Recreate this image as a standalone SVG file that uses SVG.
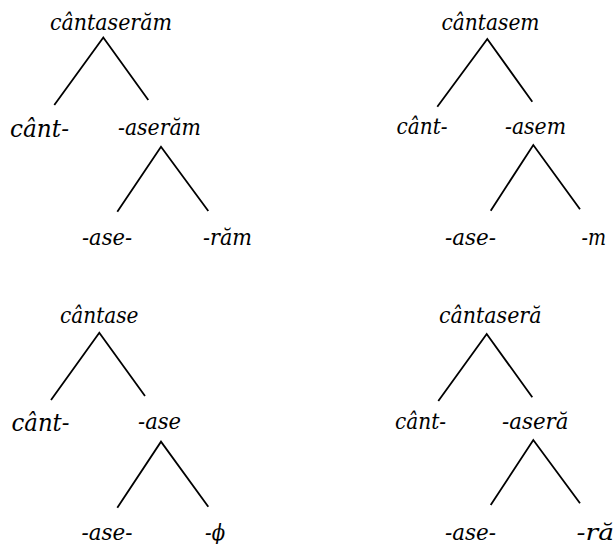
<svg xmlns="http://www.w3.org/2000/svg" width="615" height="544" viewBox="0 0 615 544">
<style>
.lbl{font-family:'DejaVu Serif', 'Liberation Serif', serif;font-style:italic;font-size:22px;fill:#000}
.big{font-size:25px}
.edge{stroke:#000;stroke-width:1.8;fill:none;stroke-linecap:butt}
</style>
<rect width="615" height="544" fill="#fff"/>
<g id="connectors">
<path class="edge" d="M54.3,105 L103.3,37.5 L148.3,100"/>
<path class="edge" d="M117.3,211.7 L161,146.7 L208.3,211"/>
<path class="edge" d="M437.3,106.7 L487.3,39 L532.3,101.7"/>
<path class="edge" d="M490.7,210.7 L533.3,145 L580,209.3"/>
<path class="edge" d="M51,400 L99.3,332.7 L145,396"/>
<path class="edge" d="M117.3,507.7 L161,441.7 L208.3,506.7"/>
<path class="edge" d="M438.3,401 L486.7,334 L532.3,397.3"/>
<path class="edge" d="M490.7,505 L533.3,440 L580,503.3"/>
</g>
<g id="t1-root"><text class="lbl" x="50" y="30" textLength="122" lengthAdjust="spacingAndGlyphs">cântaserăm</text></g>
<g id="t1-cant"><text class="lbl big" x="10" y="137" textLength="59" lengthAdjust="spacingAndGlyphs">cânt-</text></g>
<g id="t1-aseram"><text class="lbl" x="118" y="135" textLength="83" lengthAdjust="spacingAndGlyphs">-aserăm</text></g>
<g id="t1-ase"><text class="lbl" x="82" y="245" textLength="50" lengthAdjust="spacingAndGlyphs">-ase-</text></g>
<g id="t1-ram"><text class="lbl" x="203" y="245" textLength="49" lengthAdjust="spacingAndGlyphs">-răm</text></g>
<g id="t2-root"><text class="lbl" x="441.5" y="30" textLength="98" lengthAdjust="spacingAndGlyphs">cântasem</text></g>
<g id="t2-cant"><text class="lbl" x="396.5" y="134" textLength="51" lengthAdjust="spacingAndGlyphs">cânt-</text></g>
<g id="t2-asem"><text class="lbl" x="505" y="134" textLength="61" lengthAdjust="spacingAndGlyphs">-asem</text></g>
<g id="t2-ase"><text class="lbl" x="445" y="245" textLength="51" lengthAdjust="spacingAndGlyphs">-ase-</text></g>
<g id="t2-m"><text class="lbl" x="581.5" y="245" textLength="24.5" lengthAdjust="spacingAndGlyphs">-m</text></g>
<g id="t3-root"><text class="lbl" x="60" y="323" textLength="78.5" lengthAdjust="spacingAndGlyphs">cântase</text></g>
<g id="t3-cant"><text class="lbl big" x="11.5" y="431" textLength="58" lengthAdjust="spacingAndGlyphs">cânt-</text></g>
<g id="t3-ase"><text class="lbl" x="138" y="429" textLength="43" lengthAdjust="spacingAndGlyphs">-ase</text></g>
<g id="t3-ase2"><text class="lbl" x="81.5" y="540" textLength="51" lengthAdjust="spacingAndGlyphs">-ase-</text></g>
<g id="t3-phi"><text class="lbl" x="205" y="540" textLength="20" lengthAdjust="spacingAndGlyphs">-ϕ</text></g>
<g id="t4-root"><text class="lbl" x="439" y="323" textLength="102.5" lengthAdjust="spacingAndGlyphs">cântaseră</text></g>
<g id="t4-cant"><text class="lbl" x="395" y="429" textLength="51" lengthAdjust="spacingAndGlyphs">cânt-</text></g>
<g id="t4-asera"><text class="lbl" x="502" y="429" textLength="66.5" lengthAdjust="spacingAndGlyphs">-aseră</text></g>
<g id="t4-ase"><text class="lbl" x="445" y="540" textLength="51" lengthAdjust="spacingAndGlyphs">-ase-</text></g>
<g id="t4-ra"><text class="lbl" x="576.5" y="540" textLength="37.5" lengthAdjust="spacingAndGlyphs">-ră</text></g>
</svg>
